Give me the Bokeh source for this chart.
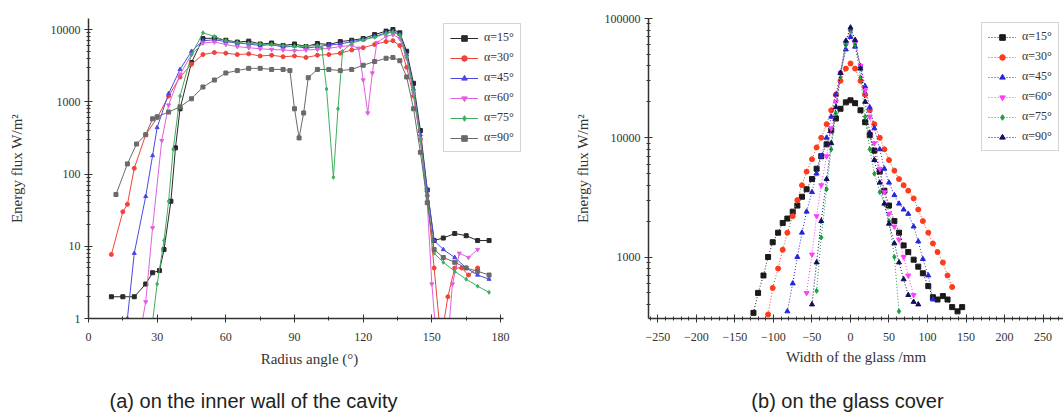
from bokeh.plotting import figure
from bokeh.models import Range1d, FixedTicker, PrintfTickFormatter, Legend, LegendItem, Label
from bokeh.layouts import row, column
from bokeh.embed import file_html
from bokeh.resources import INLINE

LABELS = ["α=15°", "α=30°", "α=45°", "α=60°", "α=75°", "α=90°"]
CAPTIONS = ["(a) on the inner wall of the cavity", "(b) on the glass cover"]

# ---------------- (a) energy flux on the inner wall of the cavity ----------------
a15_x = [10, 15, 20, 25, 28, 31, 33, 36, 38, 40, 45, 50, 55, 60, 65, 70, 75, 80, 85, 90, 95, 100, 105, 110, 115, 120, 125, 130, 133, 136, 139, 142, 145, 148, 151, 155, 160, 165, 170, 175]
a15_y = [2, 2, 2, 3, 4.3, 4.6, 9, 42, 230, 800, 3500, 7500, 7600, 7100, 6700, 6900, 6300, 6500, 6000, 6300, 5800, 6400, 6200, 6800, 7100, 7500, 8500, 9500, 10000, 9000, 5000, 1800, 400, 60, 12, 13, 15, 14, 12, 12]

a30_x = [10, 15, 17, 20, 25, 30, 35, 40, 45, 50, 55, 60, 65, 70, 75, 80, 85, 90, 95, 100, 105, 110, 115, 120, 125, 130, 133, 136, 139, 142, 145, 148, 151, 154, 157, 160, 163, 166, 170]
a30_y = [7.7, 30, 38, 120, 350, 600, 1200, 2200, 3300, 4500, 4800, 4700, 4500, 4600, 4300, 4400, 4200, 4300, 4100, 4400, 4500, 4700, 5200, 5600, 6200, 6800, 7000, 6000, 3000, 1200, 300, 50, 5, 0.5, 2, 5, 5, 4, 5]

a45_x = [17, 20, 25, 28, 30, 35, 40, 45, 50, 55, 60, 65, 70, 75, 80, 85, 90, 95, 100, 105, 110, 115, 120, 125, 130, 133, 136, 139, 142, 145, 148, 151, 155, 160, 165, 170, 175]
a45_y = [1, 8, 49, 180, 440, 1300, 2800, 5000, 7000, 7200, 6800, 6500, 6300, 6000, 6200, 5700, 5900, 5500, 5800, 6100, 6300, 6800, 7200, 8000, 9000, 9400, 8500, 4500, 1500, 350, 60, 12, 9, 7, 5, 4, 3.5]

a60_x = [22, 25, 28, 32, 35, 40, 45, 50, 55, 60, 65, 70, 75, 80, 85, 90, 95, 100, 105, 110, 115, 118, 120, 122, 124, 126, 130, 133, 136, 139, 142, 145, 148, 150, 152, 157, 159, 162, 166, 170]
a60_y = [0.5, 1.7, 18, 290, 900, 2400, 4500, 6500, 6700, 6200, 5800, 5600, 5400, 5300, 5200, 5100, 5200, 5300, 5500, 5800, 6000, 5500, 2000, 700, 2500, 6600, 8000, 8500, 7500, 4000, 1300, 300, 40, 3, 0.5, 0.5, 3, 8, 7, 9]

a75_x = [27, 30, 33, 35, 37, 40, 45, 50, 55, 60, 65, 70, 75, 80, 85, 90, 95, 100, 102, 104, 107, 109, 111, 115, 120, 125, 130, 133, 136, 139, 142, 145, 148, 151, 155, 160, 165, 170, 175]
a75_y = [0.5, 3, 12, 42, 220, 1200, 4500, 9000, 8000, 7000, 6600, 6400, 6300, 6200, 6000, 5800, 5900, 6000, 5500, 1500, 90, 800, 5000, 6500, 7200, 7800, 8800, 9200, 8300, 4200, 1400, 300, 45, 8, 6, 4.5, 3.5, 2.8, 2.3]

a90_x = [12, 17, 21, 25, 28, 30, 35, 40, 45, 50, 55, 60, 65, 70, 75, 80, 85, 88, 90, 92, 94, 96, 100, 105, 110, 115, 120, 125, 130, 133, 136, 139, 142, 145, 148, 151, 155, 160, 165, 170, 175]
a90_y = [52, 138, 260, 350, 580, 620, 720, 850, 1100, 1600, 2000, 2500, 2700, 2900, 2900, 2800, 2800, 2700, 800, 316, 700, 2150, 2800, 2800, 2700, 2800, 3200, 3600, 4000, 4100, 3700, 2200, 800, 200, 40, 9, 7, 6, 5, 4.5, 4]

a_x_ticks = [0, 30, 60, 90, 120, 150, 180]
a_y_ticks = [1, 10, 100, 1000, 10000]

# ---------------- (b) energy flux on the glass cover ----------------
b15_x = [-126, -120, -113, -107, -101, -94, -88, -82, -75, -69, -63, -57, -50, -44, -38, -31, -25, -19, -13, -6, 0, 6, 13, 19, 25, 31, 38, 44, 50, 57, 63, 69, 75, 82, 88, 94, 101, 107, 113, 120, 126, 132, 139, 145]
b15_y = [340, 500, 700, 1000, 1330, 1600, 1930, 2100, 2400, 2700, 3200, 3700, 4500, 5500, 7000, 8800, 11500, 14500, 17500, 19800, 20600, 19500, 17000, 13500, 10500, 7800, 5200, 3600, 2700, 2000, 1600, 1250, 1100, 950, 830, 730, 570, 460, 440, 470, 440, 380, 350, 380]

b30_x = [-107, -101, -94, -88, -82, -75, -69, -63, -57, -50, -44, -38, -31, -25, -19, -13, -6, 0, 6, 13, 19, 25, 31, 38, 44, 50, 57, 63, 69, 75, 82, 88, 94, 101, 107, 113, 120, 126, 132]
b30_y = [330, 550, 800, 1150, 1600, 2200, 3000, 4000, 5200, 6600, 8300, 10000, 13000, 17000, 23000, 30000, 38000, 42000, 38000, 30000, 23000, 17000, 13000, 10000, 8000, 6500, 5300, 4500, 4000, 3600, 3100, 2500, 2000, 1600, 1300, 1100, 900, 700, 560]

b45_x = [-82, -75, -69, -63, -57, -50, -44, -38, -31, -25, -19, -13, -6, 0, 6, 13, 19, 25, 31, 38, 44, 50, 57, 63, 69, 75, 82, 88, 94, 101, 107]
b45_y = [350, 600, 1000, 1600, 2400, 3500, 5000, 7000, 10000, 15000, 23000, 35000, 55000, 70000, 58000, 40000, 27000, 18000, 12000, 8000, 5500, 4200, 3300, 2800, 2500, 2300, 1800, 1350, 960, 700, 440]

b60_x = [-57, -50, -44, -38, -31, -25, -19, -13, -6, 0, 6, 13, 19, 25, 31, 38, 44, 50, 57, 63, 69, 75, 82]
b60_y = [500, 1050, 2200, 4000, 7000, 12000, 20000, 35000, 60000, 78000, 62000, 40000, 25000, 15000, 9000, 5500, 3500, 2300, 1800, 1400, 1000, 700, 480]

b75_x = [-44, -38, -31, -25, -19, -13, -6, 0, 6, 13, 19, 25, 31, 38, 44, 50, 57, 63]
b75_y = [520, 1460, 3700, 8000, 16000, 32000, 60000, 80000, 60000, 32000, 15000, 8000, 5000, 3500, 2800, 2000, 1000, 350]

b90_x = [-50, -44, -38, -31, -25, -19, -13, -6, 0, 6, 13, 19, 25, 31, 38, 44, 50, 57, 63, 69, 75, 82, 88]
b90_y = [400, 900, 2000, 4500, 9000, 18000, 35000, 65000, 84000, 66000, 38000, 20000, 11000, 6500, 4200, 2800, 1900, 1300, 900, 650, 480, 420, 400]

b_x_ticks = [-250, -200, -150, -100, -50, 0, 50, 100, 150, 200, 250]
b_y_ticks = [1000, 10000, 100000]

SERIF = "Liberation Serif"
SANS = "Liberation Sans"
TXT = "#333333"


def style(p):
    p.outline_line_color = None
    p.grid.grid_line_color = None
    p.background_fill_color = "white"
    p.border_fill_color = "white"
    for ax in p.axis:
        ax.axis_line_color = "#333333"
        ax.axis_line_width = 1.5
        ax.major_tick_line_color = "#333333"
        ax.minor_tick_line_color = "#333333"
        ax.major_tick_in = 4
        ax.major_tick_out = 4
        ax.minor_tick_in = 2
        ax.minor_tick_out = 2
        ax.major_label_text_font = SERIF
        ax.major_label_text_font_size = "12px"
        ax.major_label_text_color = TXT
        ax.axis_label_text_font = SERIF
        ax.axis_label_text_font_style = "normal"
        ax.axis_label_text_font_size = "15px"
        ax.axis_label_text_color = TXT


def log_minors(lo, hi):
    out = []
    e = lo
    while e < hi:
        for k in range(2, 10):
            out.append(k * 10 ** e)
        e += 1
    return out


def make_legend(items, loc):
    lg = Legend(items=items, location=loc)
    lg.label_text_font = SERIF
    lg.label_text_font_size = "12px"
    lg.label_text_color = TXT
    lg.glyph_width = 28
    lg.glyph_height = 14
    lg.label_height = 14
    lg.spacing = 5
    lg.padding = 6
    lg.margin = 0
    lg.label_standoff = 6
    lg.border_line_color = "#aaaaaa"
    lg.border_line_width = 1
    lg.background_fill_color = "white"
    lg.background_fill_alpha = 1
    return lg


def caption_strip(width, cx, text):
    c = figure(width=width, height=40, x_range=Range1d(0, width), y_range=Range1d(0, 40),
               x_axis_location=None, y_axis_location=None, output_backend="svg",
               toolbar_location=None, min_border=0)
    c.outline_line_color = None
    c.grid.grid_line_color = None
    c.add_layout(Label(x=cx, y=16, text=text, text_align="center", text_baseline="middle",
                       text_font=SANS, text_font_size="20px", text_color="#222222"))
    return c


# ---------- figure (a) ----------
p1 = figure(width=538, height=376, x_range=Range1d(0, 193.1), y_range=Range1d(1, 14200),
            y_axis_type="log", output_backend="svg", toolbar_location=None,
            min_border_left=88, min_border_right=8, min_border_top=18, min_border_bottom=58)
style(p1)
p1.xaxis.bounds = (0, 181.5)
p1.xaxis.ticker = FixedTicker(ticks=a_x_ticks, minor_ticks=[15, 45, 75, 105, 135, 165])
p1.yaxis.ticker = FixedTicker(ticks=a_y_ticks, minor_ticks=log_minors(0, 4))
p1.yaxis.formatter = PrintfTickFormatter(format="%d")
p1.xaxis.axis_label = "Radius angle (°)"
p1.yaxis.axis_label = "Energy flux W/m²"
p1.xaxis.major_label_standoff = 10
p1.xaxis.axis_label_standoff = 7
p1.yaxis.major_label_standoff = 4
p1.yaxis.axis_label_standoff = 23

a_series = [(a15_x, a15_y), (a30_x, a30_y), (a45_x, a45_y), (a60_x, a60_y), (a75_x, a75_y), (a90_x, a90_y)]
a_colors = ["#2a2a2a", "#f0443a", "#4a4ae0", "#e060e0", "#3fae5f", "#6a6a6a"]
a_markers = ["square", "circle", "triangle", "inverted_triangle", "diamond", "square"]
items = []
for (xs, ys), c, m, lab in zip(a_series, a_colors, a_markers, LABELS):
    l = p1.line(xs, ys, line_color=c, line_width=1)
    s = p1.scatter(xs, ys, marker=m, size=4, line_color=c, fill_color=c)
    items.append(LegendItem(label=lab, renderers=[l, s]))
p1.add_layout(make_legend(items, (355, 166)))

# ---------- figure (b) ----------
p2 = figure(width=525, height=376, x_range=Range1d(-262.3, 276.6), y_range=Range1d(305, 100000),
            y_axis_type="log", output_backend="svg", toolbar_location=None,
            min_border_left=110, min_border_right=0, min_border_top=14, min_border_bottom=55)
style(p2)
p2.xaxis.ticker = FixedTicker(ticks=b_x_ticks, minor_ticks=[v for v in range(-260, 280, 10) if v % 50 != 0])
p2.yaxis.ticker = FixedTicker(ticks=b_y_ticks, minor_ticks=[400, 500, 600, 700, 800, 900] + log_minors(3, 5))
p2.yaxis.formatter = PrintfTickFormatter(format="%d")
p2.xaxis.axis_label = "Width of the glass /mm"
p2.yaxis.axis_label = "Energy flux W/m²"
p2.xaxis.major_label_standoff = 10
p2.xaxis.axis_label_standoff = 5
p2.yaxis.major_label_standoff = 4
p2.yaxis.axis_label_standoff = 11

b_series = [(b15_x, b15_y), (b30_x, b30_y), (b45_x, b45_y), (b60_x, b60_y), (b75_x, b75_y), (b90_x, b90_y)]
b_colors = ["#1a1a1a", "#ff3a1a", "#2626d9", "#ff3dff", "#15a040", "#10105a"]
b_markers = ["square", "circle", "triangle", "inverted_triangle", "diamond", "triangle"]
items2 = []
for (xs, ys), c, m, lab in zip(b_series, b_colors, b_markers, LABELS):
    l = p2.line(xs, ys, line_color=c, line_width=1, line_dash="1 2")
    s = p2.scatter(xs, ys, marker=m, size=5, line_color=c, fill_color=c)
    items2.append(LegendItem(label=lab, renderers=[l, s]))
p2.add_layout(make_legend(items2, (333, 167)))

c1 = caption_strip(538, 253, CAPTIONS[0])
c2 = caption_strip(525, 309, CAPTIONS[1])

layout = column(row(p1, p2), row(c1, c2))
open("out.html", "w").write(file_html(layout, INLINE))
